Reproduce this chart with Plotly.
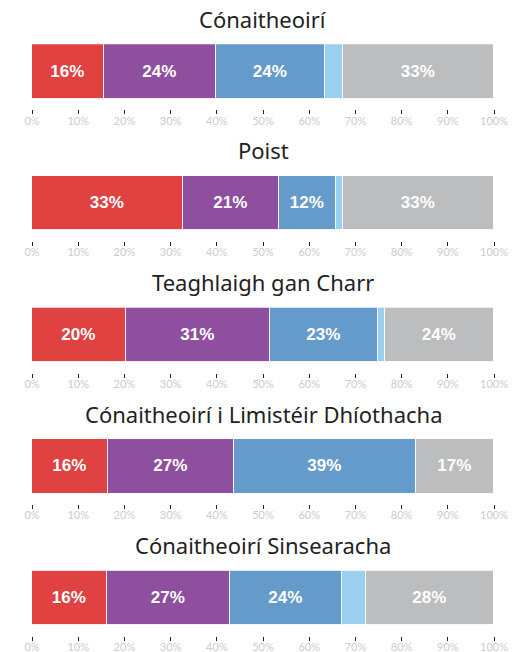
import plotly.graph_objects as go

# Share of each group by segment (percent)
panels = [
    "Cónaitheoirí",
    "Poist",
    "Teaghlaigh gan Charr",
    "Cónaitheoirí i Limistéir Dhíothacha",
    "Cónaitheoirí Sinsearacha",
]
seg_red = [15.6, 32.6, 20.3, 16.4, 16.2]
seg_purple = [24.3, 20.9, 31.2, 27.3, 26.6]
seg_blue = [23.6, 12.3, 23.4, 39.4, 24.4]
seg_lightblue = [3.8, 1.6, 1.4, 0.0, 5.2]
seg_gray = [32.7, 32.6, 23.7, 16.9, 27.6]

tick_vals = [0, 10, 20, 30, 40, 50, 60, 70, 80, 90, 100]
tick_text = ["0%", "10%", "20%", "30%", "40%", "50%", "60%", "70%", "80%", "90%", "100%"]

series = [
    (seg_red, "#e04141"),
    (seg_purple, "#8e4f9e"),
    (seg_blue, "#659bcb"),
    (seg_lightblue, "#9ad0ee"),
    (seg_gray, "#bcbdbf"),
]

W, H = 522, 652
first_top = 44.3
step = 131.6
bar_h = 55.0
gap = 10.0
label_min = 8

fig = go.Figure()

for i, name in enumerate(panels):
    top = first_top + i * step
    axis_px = top + bar_h + gap
    dom = [1 - axis_px / H, 1 - top / H]
    xa = "x" if i == 0 else f"x{i + 1}"
    ya = "y" if i == 0 else f"y{i + 1}"
    for vals, color in series:
        v = vals[i]
        txt = f"{round(v)}%" if v >= label_min else ""
        fig.add_trace(go.Bar(
            x=[v], y=[0], orientation="h", width=1,
            marker=dict(color=color, line=dict(color="rgba(255,255,255,0.9)", width=1.5)),
            text=[txt], textposition="inside", insidetextanchor="middle",
            textfont=dict(family="Liberation Sans", size=17, color="white", weight="bold"),
            textangle=0,
            xaxis=xa, yaxis=ya, showlegend=False, hoverinfo="skip",
        ))
    lay_x = "xaxis" if i == 0 else f"xaxis{i + 1}"
    lay_y = "yaxis" if i == 0 else f"yaxis{i + 1}"
    fig.layout[lay_x] = dict(
        domain=[0, 1], anchor=ya, range=[0, 100], fixedrange=True,
        tickvals=tick_vals, ticktext=tick_text,
        ticks="outside", ticklen=4, tickwidth=1, tickcolor="#222",
        showgrid=False, zeroline=False, showline=False,
        ticklabelstandoff=-3,
        tickfont=dict(family="Lato", size=11, color="#cccccc"),
    )
    fig.layout[lay_y] = dict(
        domain=dom, anchor=xa, range=[-0.5 - gap / bar_h, 0.5],
        showticklabels=False, showgrid=False, zeroline=False, showline=False,
        fixedrange=True,
    )
    fig.add_annotation(
        text=name, xref="paper", yref="paper", x=0.5, y=1 - (top - 25.5) / H,
        xanchor="center", yanchor="middle", showarrow=False,
        font=dict(family="Noto Sans", size=22, color="#222222"),
    )

fig.update_layout(
    barmode="stack", width=W, height=H,
    margin=dict(l=32, r=28, t=0, b=0),
    plot_bgcolor="white", paper_bgcolor="white",
    bargap=0, uniformtext=dict(mode="show", minsize=10),
)

fig.write_html("out.html")
